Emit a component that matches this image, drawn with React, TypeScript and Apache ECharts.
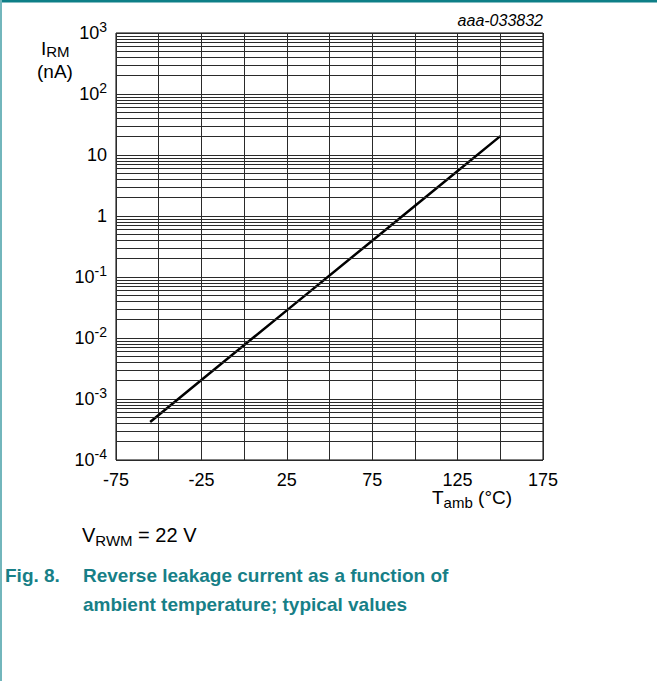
import React, { useEffect, useRef } from 'react';
import * as echarts from 'echarts';

const temperatures = [-55, -25, 25, 75, 125, 150];
const leakageCurrent = [4.2e-4, 2.05e-3, 0.0284, 0.394, 5.46, 20.4];
const xTickLabels = [-75, -25, 25, 75, 125, 175];
const decadeExponents = [-4, -3, -2, -1, 0, 1, 2];
const minorMultipliers = [2, 3, 4, 5, 6, 7, 8, 9];

const TEAL = '#177f87';
const FONT = 'Liberation Sans, Arial, sans-serif';

export default function App() {
  const ref = useRef<HTMLDivElement>(null);
  useEffect(() => {
    document.body.style.margin = '0';
    const chart = echarts.init(ref.current!, null, { renderer: 'svg' });
    const minorLines: { yAxis: number }[] = [];
    decadeExponents.forEach((e) => {
      minorMultipliers.forEach((m) => minorLines.push({ yAxis: m * Math.pow(10, e) }));
    });
    const option = {
      animation: false,
      backgroundColor: '#fff',
      textStyle: { fontFamily: FONT },
      grid: {
        left: 116,
        top: 33,
        width: 427,
        height: 427,
        show: true,
        borderColor: '#000',
        borderWidth: 1,
        backgroundColor: 'transparent',
      },
      xAxis: {
        type: 'value',
        min: -75,
        max: 175,
        interval: 25,
        axisLine: { show: false },
        axisTick: { show: false },
        splitLine: { show: true, lineStyle: { color: '#2a2a2a', width: 1 } },
        axisLabel: {
          color: '#000',
          fontSize: 18,
          fontFamily: FONT,
          margin: 11,
          formatter: (v: number) => (xTickLabels.includes(v) ? String(v) : ''),
        },
      },
      yAxis: {
        type: 'log',
        logBase: 10,
        min: 1e-4,
        max: 1e3,
        splitNumber: 7,
        axisLine: { show: false },
        axisTick: { show: false },
        splitLine: { show: true, lineStyle: { color: '#2a2a2a', width: 1 } },
        axisLabel: {
          color: '#000',
          margin: 9,
          formatter: (v: number) => {
            const e = Math.round(Math.log10(v));
            if (e === 0) return '{b|1}';
            if (e === 1) return '{b|10}';
            return '{b|10}{s|' + e + '}';
          },
          rich: {
            b: { fontSize: 18, fontFamily: FONT, color: '#000', verticalAlign: 'top', padding: [4, 0, 4, 0] },
            s: { fontSize: 14, fontFamily: FONT, color: '#000', verticalAlign: 'top', padding: [0, 0, 0, 0] },
          },
        },
      },
      series: [
        {
          type: 'line',
          data: [],
          z: 1,
          silent: true,
          markLine: {
            silent: true,
            precision: 10,
            symbol: ['none', 'none'],
            label: { show: false },
            lineStyle: { type: 'solid', color: '#2a2a2a', width: 1 },
            data: minorLines,
          },
        },
        {
          type: 'line',
          z: 3,
          data: temperatures.map((t, i) => [t, leakageCurrent[i]]),
          showSymbol: false,
          symbol: 'none',
          lineStyle: { color: '#000', width: 2.5 },
        },
      ],
      graphic: [
        { type: 'rect', shape: { x: 0, y: 0, width: 657, height: 2.5 }, style: { fill: '#0e7f87' } },
        { type: 'rect', shape: { x: 0, y: 0, width: 2, height: 681 }, style: { fill: '#72b6bc' } },
        {
          type: 'text',
          x: 543,
          y: 12,
          style: {
            text: 'aaa-033832',
            fontSize: 16,
            fontStyle: 'italic',
            fontFamily: FONT,
            fill: '#000',
            align: 'right',
            verticalAlign: 'top',
          },
        },
        {
          type: 'text',
          x: 41,
          y: 39,
          style: {
            text: '{i|I}{s|RM}',
            rich: {
              i: { fontSize: 19, fontFamily: FONT, fill: '#000', verticalAlign: 'top', lineHeight: 19 },
              s: { fontSize: 15, fontFamily: FONT, fill: '#000', verticalAlign: 'top', lineHeight: 15, padding: [5, 0, 0, 0] },
            },
          },
        },
        {
          type: 'text',
          x: 37,
          y: 62,
          style: { text: '(nA)', fontSize: 19, lineHeight: 19, fontFamily: FONT, fill: '#000', verticalAlign: 'top' },
        },
        {
          type: 'text',
          x: 432,
          y: 488,
          style: {
            text: '{t|T}{s|amb}{t| (°C)}',
            rich: {
              t: { fontSize: 19, fontFamily: FONT, fill: '#000', verticalAlign: 'top' },
              s: { fontSize: 15, fontFamily: FONT, fill: '#000', verticalAlign: 'top', padding: [7, 0, 0, 0] },
            },
          },
        },
        {
          type: 'text',
          x: 82,
          y: 525,
          style: {
            text: '{t|V}{s|RWM}{t| = 22 V}',
            rich: {
              t: { fontSize: 20, fontFamily: FONT, fill: '#000', verticalAlign: 'top' },
              s: { fontSize: 15, fontFamily: FONT, fill: '#000', verticalAlign: 'top', padding: [8, 0, 0, 0] },
            },
          },
        },
        {
          type: 'text',
          x: 5,
          y: 566,
          style: { text: 'Fig. 8.', fontSize: 19, fontWeight: 'bold', fontFamily: FONT, fill: TEAL, verticalAlign: 'top' },
        },
        {
          type: 'text',
          x: 83,
          y: 561,
          style: {
            text: 'Reverse leakage current as a function of\nambient temperature; typical values',
            fontSize: 19,
            lineHeight: 29,
            fontWeight: 'bold',
            fontFamily: FONT,
            fill: TEAL,
            verticalAlign: 'top',
          },
        },
      ],
    };
    chart.setOption(option as any);
    return () => chart.dispose();
  }, []);
  return <div ref={ref} style={{ width: 657, height: 681 }} />;
}
